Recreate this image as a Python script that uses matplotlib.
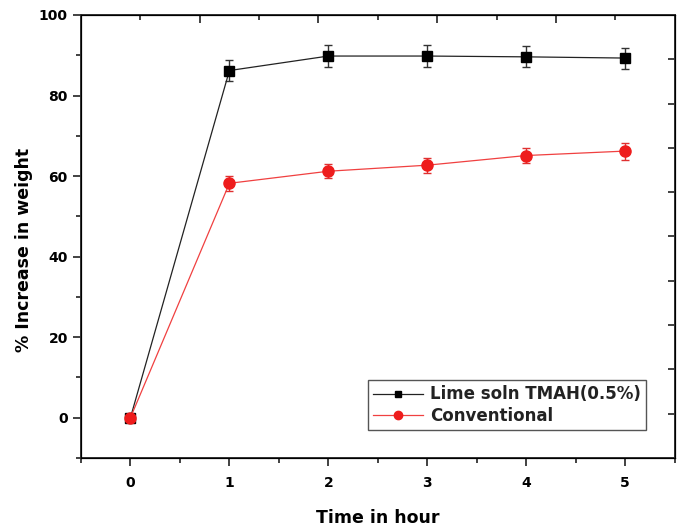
import matplotlib.pyplot as plt
from matplotlib.ticker import MultipleLocator

# data
hours = [0, 1, 2, 3, 4, 5]
lime_tmah = [0, 86.2, 89.8, 89.8, 89.6, 89.3]
lime_tmah_err = [0, 2.5, 2.7, 2.8, 2.6, 2.6]
conventional = [0, 58.2, 61.2, 62.7, 65.1, 66.2]
conventional_err = [0, 1.9, 1.8, 1.9, 1.9, 2.1]

plt.rcParams['font.family'] = ['DejaVu Sans']

fig = plt.figure(figsize=(6.77, 5.27), dpi=100)
ax = fig.add_axes([0.1196, 0.131, 0.877, 0.8406])

# error bars first, lines + markers on top (lines carry the legend labels)
ax.errorbar(hours, lime_tmah, yerr=lime_tmah_err, fmt='none', ecolor='#333333',
            elinewidth=1, capsize=3.2, zorder=2)
ax.errorbar(hours, conventional, yerr=conventional_err, fmt='none', ecolor='#e03030',
            elinewidth=1, capsize=3.2, zorder=2)
ax.plot(hours, lime_tmah, color='#222222', lw=0.9, marker='s', ms=6.5,
        mfc='black', mec='black', label='Lime soln TMAH(0.5%)', zorder=3)
ax.plot(hours, conventional, color='#f04040', lw=0.9, marker='o', ms=8,
        mfc='#ee1c1c', mec='#ee1c1c', label='Conventional', zorder=3)

ax.set_xlim(-0.5, 5.5)
ax.set_ylim(-10, 100)
ax.xaxis.set_major_locator(MultipleLocator(1))
ax.xaxis.set_minor_locator(MultipleLocator(0.5))
ax.yaxis.set_major_locator(MultipleLocator(20))
ax.yaxis.set_minor_locator(MultipleLocator(10))
ax.tick_params(which='both', direction='out', width=1.3, color='#333333',
               labelsize=10)
ax.tick_params(which='major', length=6)
ax.tick_params(which='minor', length=3.5)
ax.tick_params(axis='x', pad=7)
for lbl in ax.get_xticklabels() + ax.get_yticklabels():
    lbl.set_fontweight('bold')

for s in ax.spines.values():
    s.set_linewidth(1.4)
    s.set_color('#333333')

# mismatched top / right ticks as in the original
top = ax.twiny()
top.set_xlim(0, 10)
top.set_xticks([2, 4, 6, 8])
top.set_xticks([1, 3, 5, 7, 9], minor=True)
top.tick_params(which='both', direction='in', width=1.3, color='#333333',
                labeltop=False)
top.tick_params(which='major', length=6)
top.tick_params(which='minor', length=3.5)
right = ax.twinx()
right.set_ylim(0, 10)
right.set_yticks([1, 2, 3, 4, 5, 6, 7, 8, 9])
right.tick_params(which='both', direction='in', width=1.3, color='#333333',
                  labelright=False, length=5)

ax.set_xlabel('Time in hour', fontsize=12.5, fontweight='bold', labelpad=14)
ax.set_ylabel('% Increase in weight', fontsize=12.5, fontweight='bold')
ax.yaxis.set_label_coords(-0.08, 0.47)

leg = ax.legend(loc='lower right', bbox_to_anchor=(0.965, 0.045), fancybox=False,
                edgecolor='#555555', framealpha=1, handlelength=3.0,
                handletextpad=0.4, borderpad=0.3, labelspacing=0.2,
                markerscale=0.75, prop={'size': 12, 'weight': 'bold'})
leg.get_frame().set_linewidth(1.0)
for t in leg.get_texts():
    t.set_color('#222222')

fig.savefig('out.png', dpi=100)
